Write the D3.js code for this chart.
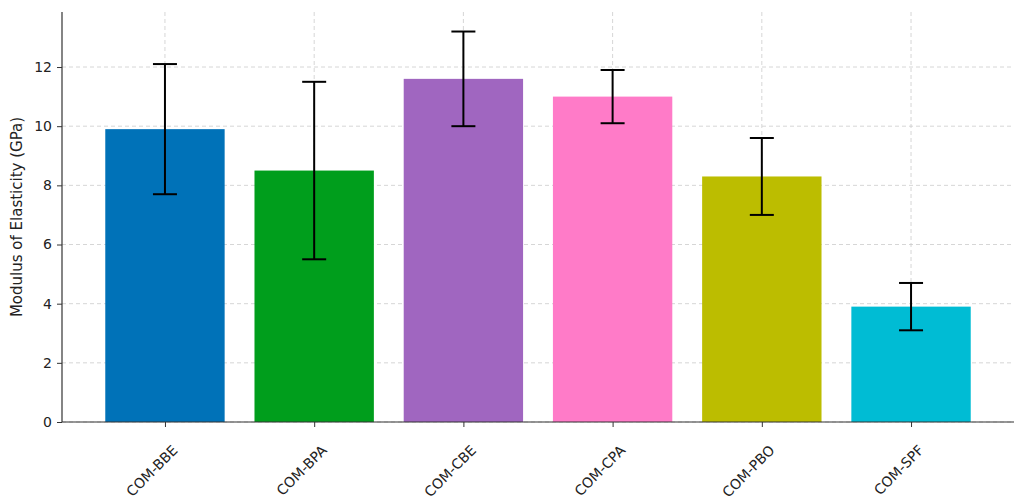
<!DOCTYPE html>
<html><head><meta charset="utf-8">
<script src="https://cdn.jsdelivr.net/npm/d3@7"></script>
<style>body{margin:0;background:#fff}svg{font-family:"DejaVu Sans",sans-serif}</style>
</head><body><svg id="c" width="1021" height="503"></svg>
<script>
const categories = ["COM-BBE", "COM-BPA", "COM-CBE", "COM-CPA", "COM-PBO", "COM-SPF"];
const values = [9.9, 8.5, 11.6, 11.0, 8.3, 3.9];
const errors = [2.2, 3.0, 1.6, 0.9, 1.3, 0.8];
const colors = ["#0072b8", "#009e1c", "#a066c0", "#ff7bc8", "#bcbd00", "#00bcd4"];
const yTicks = [0, 2, 4, 6, 8, 10, 12];

const svg = d3.select("#c");
const mLeft = 62, mRight = 1014, mTop = 12, mBottom = 422;

// matplotlib-like x limits: bar width 0.8, 5% margins
const x = d3.scaleLinear().domain([-0.69, categories.length - 1 + 0.69]).range([mLeft, mRight]);
const bw = x(0.8) - x(0);
const y = d3.scaleLinear().domain([0, 13.86]).range([mBottom, mTop]);

// grid
svg.append("g").selectAll("line").data(yTicks).enter().append("line")
  .attr("x1", mLeft).attr("x2", mRight).attr("y1", d => y(d)).attr("y2", d => y(d))
  .attr("stroke", "#ccc").attr("stroke-dasharray", "4,3").attr("stroke-width", 0.8);
svg.append("g").selectAll("line").data(categories).enter().append("line")
  .attr("x1", (d, i) => x(i)).attr("x2", (d, i) => x(i)).attr("y1", mTop).attr("y2", mBottom)
  .attr("stroke", "#ccc").attr("stroke-dasharray", "4,3").attr("stroke-width", 0.8);

// bars
svg.selectAll(".bar").data(values).enter().append("rect")
  .attr("x", (d, i) => x(i) - bw / 2).attr("width", bw)
  .attr("y", d => y(d)).attr("height", d => mBottom - y(d))
  .attr("fill", (d, i) => colors[i]);

// error bars
const eb = svg.append("g").attr("stroke", "#000").attr("stroke-width", 2);
values.forEach((v, i) => {
  const cx = x(i);
  eb.append("line").attr("x1", cx).attr("x2", cx).attr("y1", y(v - errors[i])).attr("y2", y(v + errors[i]));
  [v - errors[i], v + errors[i]].forEach(e =>
    eb.append("line").attr("x1", cx - 12).attr("x2", cx + 12).attr("y1", y(e)).attr("y2", y(e)));
});

// axes
const yAxis = svg.append("g").attr("transform", `translate(${mLeft},0)`)
  .call(d3.axisLeft(y).tickValues(yTicks).tickSize(5).tickPadding(5).tickFormat(d3.format("d")));
const xAxis = svg.append("g").attr("transform", `translate(0,${mBottom})`)
  .call(d3.axisBottom(x).tickValues(d3.range(categories.length)).tickSize(5).tickFormat(i => categories[i]));
[yAxis, xAxis].forEach(a => {
  a.select(".domain").remove();
  a.selectAll("text").attr("font-size", 14).attr("fill", "#222").attr("font-family", "DejaVu Sans, sans-serif");
  a.selectAll("line").attr("stroke", "#333");
});
xAxis.selectAll("text").attr("text-anchor", "end").attr("dy", "0.35em")
  .attr("transform", "translate(4,20) rotate(-45)");

svg.append("line").attr("x1", mLeft).attr("x2", mLeft).attr("y1", mTop).attr("y2", mBottom).attr("stroke", "#333").attr("stroke-width", 1.2);
svg.append("line").attr("x1", mLeft).attr("x2", mRight).attr("y1", mBottom).attr("y2", mBottom).attr("stroke", "#333").attr("stroke-width", 1.2);

svg.append("text").attr("transform", `translate(22,${(mTop + mBottom) / 2}) rotate(-90)`)
  .attr("text-anchor", "middle").attr("font-size", 15).attr("fill", "#222")
  .text("Modulus of Elasticity (GPa)");
</script></body></html>
